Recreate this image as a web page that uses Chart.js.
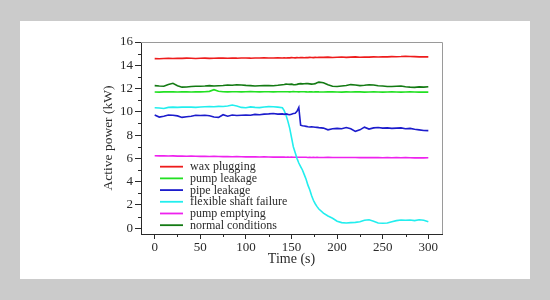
<!DOCTYPE html>
<html><head><meta charset="utf-8">
<script src="https://cdn.jsdelivr.net/npm/chart.js@4.4.1/dist/chart.umd.min.js"></script>
<style>html,body{margin:0;padding:0;background:#cbcbcb;overflow:hidden}</style>
</head><body>
<canvas id="c" width="550" height="300"></canvas>
<script>
// ---- data ----
const time = [0,5,10,15,20,25,30,35,40,45,50,55,60,65,70,75,80,85,90,95,100,105,110,115,120,125,130,135,140,
  142,144,146,148,150,152,154,156,158,160,162,164,166,168,170,172,174,176,178,180,
  185,190,195,200,205,210,215,220,225,230,235,240,245,250,255,260,265,270,275,280,285,290,295,300];

const waxPlugging = [14.57,14.56,14.58,14.59,14.58,14.60,14.59,14.61,14.60,14.58,14.60,14.61,14.59,14.60,14.62,14.61,14.60,14.62,14.61,14.63,14.62,14.61,14.63,14.62,14.64,14.63,14.62,14.64,14.63,
  14.64,14.63,14.65,14.64,14.66,14.65,14.64,14.66,14.65,14.67,14.66,14.65,14.67,14.66,14.68,14.67,14.66,14.68,14.67,14.69,
  14.68,14.70,14.67,14.69,14.71,14.68,14.70,14.72,14.69,14.71,14.70,14.72,14.71,14.73,14.72,14.74,14.73,14.75,14.78,14.76,14.74,14.72,14.73,14.72];

const pumpLeakage = [11.70,11.69,11.71,11.72,11.71,11.70,11.72,11.71,11.70,11.72,11.71,11.73,11.76,11.90,11.76,11.72,11.71,11.73,11.72,11.71,11.72,11.74,11.72,11.71,11.73,11.72,11.71,11.73,11.72,
  11.72,11.73,11.72,11.71,11.72,11.74,11.73,11.72,11.71,11.72,11.73,11.72,11.71,11.70,11.72,11.71,11.70,11.71,11.72,11.71,
  11.70,11.72,11.71,11.70,11.69,11.71,11.70,11.72,11.71,11.69,11.70,11.71,11.70,11.69,11.70,11.71,11.70,11.69,11.70,11.71,11.70,11.69,11.70,11.69];

const pipeLeakage = [9.72,9.55,9.62,9.72,9.70,9.65,9.52,9.58,9.62,9.70,9.68,9.70,9.66,9.55,9.52,9.75,9.62,9.72,9.68,9.70,9.72,9.70,9.78,9.75,9.80,9.82,9.85,9.80,9.82,
  9.78,9.82,9.78,9.75,9.80,9.85,9.88,10.05,10.38,8.85,8.80,8.78,8.75,8.72,8.70,8.72,8.70,8.68,8.66,8.64,
  8.60,8.45,8.55,8.58,8.55,8.65,8.55,8.32,8.45,8.68,8.52,8.62,8.65,8.60,8.62,8.58,8.60,8.62,8.55,8.58,8.50,8.45,8.40,8.38];

const flexibleShaftFailure = [10.35,10.33,10.28,10.38,10.40,10.38,10.40,10.42,10.40,10.38,10.41,10.43,10.45,10.44,10.47,10.46,10.50,10.58,10.50,10.38,10.35,10.42,10.38,10.36,10.42,10.45,10.43,10.40,10.35,
  10.10,9.70,9.20,8.60,7.80,7.00,6.50,6.00,5.60,5.30,5.00,4.60,4.20,3.70,3.30,2.80,2.40,2.10,1.85,1.65,
  1.30,1.05,0.85,0.60,0.48,0.45,0.48,0.50,0.55,0.68,0.72,0.60,0.45,0.42,0.45,0.55,0.65,0.70,0.68,0.70,0.65,0.72,0.68,0.55];

const pumpEmptying = [6.22,6.21,6.22,6.20,6.21,6.19,6.20,6.18,6.19,6.18,6.17,6.18,6.16,6.17,6.16,6.15,6.16,6.14,6.15,6.14,6.13,6.14,6.13,6.12,6.13,6.12,6.11,6.12,6.11,
  6.11,6.10,6.11,6.10,6.11,6.10,6.09,6.10,6.09,6.10,6.09,6.10,6.09,6.08,6.09,6.08,6.09,6.08,6.09,6.08,
  6.08,6.09,6.08,6.07,6.08,6.07,6.08,6.07,6.06,6.07,6.06,6.07,6.06,6.05,6.06,6.05,6.06,6.05,6.06,6.05,6.04,6.05,6.04,6.05];

const normalConditions = [12.25,12.22,12.20,12.35,12.45,12.25,12.12,12.13,12.17,12.20,12.20,12.22,12.25,12.22,12.24,12.26,12.30,12.28,12.32,12.30,12.27,12.25,12.22,12.24,12.26,12.25,12.24,12.28,12.33,
  12.35,12.38,12.37,12.36,12.38,12.34,12.33,12.36,12.40,12.42,12.40,12.41,12.43,12.42,12.40,12.38,12.39,12.42,12.50,12.55,
  12.50,12.32,12.20,12.18,12.22,12.26,12.34,12.30,12.25,12.28,12.33,12.30,12.24,12.22,12.17,12.18,12.20,12.22,12.15,12.12,12.10,12.14,12.12,12.15];

const seriesLabels = ['wax plugging','pump leakage','pipe leakage','flexible shaft failure','pump emptying','normal conditions'];
const seriesColors = ['#ee1c1c','#22e022','#1c1ccc','#22eeee','#ee22ee','#137a13'];
const seriesValues = [waxPlugging, pumpLeakage, pipeLeakage, flexibleShaftFailure, pumpEmptying, normalConditions];
const xTickValues = [0,50,100,150,200,250,300];
const yTickValues = [0,2,4,6,8,10,12,14,16];

const FONT = '"Liberation Serif","Times New Roman",serif';
const TEXT = '#2a2a2a';

const datasets = seriesValues.map((vals, i) => ({
  label: seriesLabels[i],
  data: time.map((t, k) => ({x: t, y: vals[k]})),
  borderColor: seriesColors[i],
  backgroundColor: seriesColors[i],
  borderWidth: 1.6,
  pointRadius: 0,
  tension: 0,
  fill: false
}));

const framePlugin = {
  id: 'frame',
  beforeDraw(chart) {
    const ctx = chart.ctx;
    ctx.save();
    ctx.fillStyle = '#cbcbcb';
    ctx.fillRect(0, 0, chart.width, chart.height);
    ctx.fillStyle = '#ffffff';
    ctx.fillRect(20, 21, 510, 258);
    ctx.restore();
  },
  afterDraw(chart) {
    const ctx = chart.ctx, a = chart.chartArea;
    const xs = chart.scales.x, ys = chart.scales.y;
    ctx.save();
    // top and right frame lines
    ctx.strokeStyle = '#9a9a9a';
    ctx.lineWidth = 1;
    ctx.beginPath();
    ctx.moveTo(a.left, a.top + 0.5); ctx.lineTo(a.right + 0.5, a.top + 0.5);
    ctx.lineTo(a.right + 0.5, a.bottom);
    ctx.stroke();
    // minor ticks
    ctx.strokeStyle = TEXT;
    ctx.beginPath();
    for (let v = 1; v < 16; v += 2) {
      const py = Math.round(ys.getPixelForValue(v)) + 0.5;
      ctx.moveTo(a.left - 3, py); ctx.lineTo(a.left, py);
    }
    for (let v = 25; v < 300; v += 50) {
      const px = Math.round(xs.getPixelForValue(v)) + 0.5;
      ctx.moveTo(px, a.bottom); ctx.lineTo(px, a.bottom + 3);
    }
    ctx.stroke();
    // legend inside the plot
    const rowH = 11.7;
    const x0 = a.left + 19, x1 = a.left + 42, tx = a.left + 49;
    const y0 = ys.getPixelForValue(0) - rowH * 5 - 3;
    ctx.font = '12px ' + FONT;
    ctx.textBaseline = 'middle';
    ctx.fillStyle = TEXT;
    chart.data.datasets.forEach((ds, i) => {
      const y = y0 + i * rowH;
      ctx.strokeStyle = ds.borderColor;
      ctx.lineWidth = 1.8;
      ctx.beginPath(); ctx.moveTo(x0, y); ctx.lineTo(x1, y); ctx.stroke();
      ctx.fillText(ds.label, tx, y + 0.5);
    });
    ctx.restore();
  }
};

new Chart(document.getElementById('c'), {
  type: 'line',
  data: { datasets },
  plugins: [framePlugin],
  options: {
    responsive: false,
    animation: false,
    events: [],
    layout: { padding: { left: 97, right: 108, top: 42, bottom: 21 } },
    plugins: { legend: { display: false }, tooltip: { enabled: false } },
    scales: {
      x: {
        type: 'linear', min: -15, max: 315,
        afterFit(s) { s.height = 45; },
        afterBuildTicks(s) { s.ticks = xTickValues.map(v => ({value: v})); },
        border: { display: true, color: TEXT, width: 1 },
        grid: { drawOnChartArea: false, drawTicks: true, tickLength: 5, tickColor: TEXT },
        ticks: { color: TEXT, padding: 1, font: { family: FONT, size: 13 }, maxRotation: 0 },
        title: { display: true, text: 'Time (s)', color: TEXT, font: { family: FONT, size: 14 }, padding: { top: 0, bottom: 11 } }
      },
      y: {
        type: 'linear', min: -0.5, max: 16,
        afterFit(s) { s.width = 44; },
        afterBuildTicks(s) { s.ticks = yTickValues.map(v => ({value: v})); },
        border: { display: true, color: TEXT, width: 1 },
        grid: { drawOnChartArea: false, drawTicks: true, tickLength: 6, tickColor: TEXT },
        ticks: { color: TEXT, padding: 2, font: { family: FONT, size: 13 } },
        title: { display: true, text: 'Active power (kW)', color: TEXT, font: { family: FONT, size: 13.5 }, padding: { top: 3, bottom: 0 } }
      }
    }
  }
});
</script>
</body></html>
